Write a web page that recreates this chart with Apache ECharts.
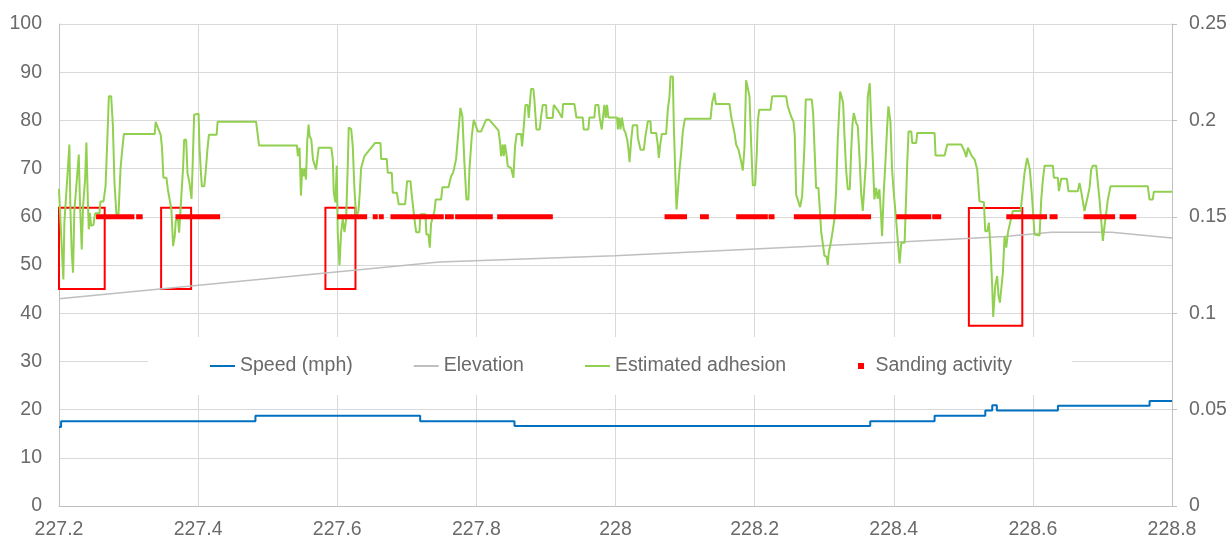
<!DOCTYPE html>
<html><head><meta charset="utf-8">
<script src="https://cdn.jsdelivr.net/npm/echarts@6/dist/echarts.min.js"></script>
<style>html,body{margin:0;padding:0;background:#fff}#c{width:1231px;height:540px}</style>
</head><body><div id="c"></div>
<script>
// ---- data ----
const seriesNames = ['Speed (mph)', 'Elevation', 'Estimated adhesion', 'Sanding activity'];

// speed (mph), step changes [km, mph]
const speed = [[227.2,16.4],[227.203,17.6],[227.4824,18.7],[227.7192,17.6],[227.8548,16.6],[228.3662,17.6],[228.4587,18.7],[228.5316,19.8],[228.5416,20.9],[228.5482,19.8],[228.636,20.8],[228.7678,21.8],[228.8,21.8]];

// elevation [km, value]
const elevation = [[227.2,43.0],[227.7469,50.6],[227.9986,51.9],[228.4012,54.7],[228.5594,55.9],[228.6265,56.8],[228.7128,56.8],[228.8,55.6]];

// estimated adhesion [km, value]
const adhesion = [
[227.2000,.1645],[227.2019,.1645],[227.2029,.1418],[227.2063,.1175],[227.2077,.1470],[227.2101,.1470],[227.2125,.1735],[227.2149,.1875],[227.2164,.1538],[227.2183,.1315],
[227.2202,.1210],[227.2221,.1538],[227.2236,.1598],[227.2260,.1603],[227.2284,.1823],[227.2303,.1555],[227.2327,.1330],[227.2346,.1555],[227.2375,.1693],[227.2394,.1885],
[227.2414,.1590],[227.2428,.1435],[227.2443,.1520],[227.2462,.1453],[227.2495,.1458],[227.2519,.1518],[227.2582,.1518],[227.2596,.1580],[227.2640,.1580],[227.2669,.1658],
[227.2693,.1883],[227.2717,.2125],[227.2750,.2125],[227.2774,.1978],[227.2798,.1675],[227.2827,.1503],[227.2856,.1518],[227.2885,.1753],[227.2909,.1848],[227.2933,.1930],
[227.3376,.1930],[227.3390,.1993],[227.3424,.1960],[227.3462,.1925],[227.3481,.1858],[227.3501,.1703],[227.3544,.1703],[227.3568,.1635],[227.3592,.1635],[227.3616,.1538],
[227.3640,.1348],[227.3664,.1400],[227.3679,.1483],[227.3712,.1483],[227.3727,.1418],[227.3746,.1418],[227.3760,.1615],[227.3785,.1763],[227.3799,.1900],[227.3828,.1900],
[227.3847,.1728],[227.3876,.1675],[227.3905,.1593],[227.3919,.1745],[227.3943,.2030],[227.4006,.2035],[227.4020,.1858],[227.4039,.1735],[227.4054,.1658],[227.4088,.1658],
[227.4107,.1728],[227.4136,.1858],[227.4155,.1925],[227.4266,.1925],[227.4280,.1993],[227.4833,.1993],[227.4876,.1870],[227.5420,.1870],[227.5434,.1815],[227.5458,.1858],
[227.5478,.1610],[227.5497,.1753],[227.5516,.1710],[227.5535,.1753],[227.5550,.1693],[227.5569,.1893],[227.5588,.1978],[227.5603,.1918],[227.5627,.1900],[227.5651,.1798],
[227.5675,.1798],[227.5694,.1745],[227.5713,.1798],[227.5733,.1858],[227.5915,.1858],[227.5936,.1798],[227.5950,.1625],[227.5974,.1575],[227.5993,.1765],[227.6007,.1420],
[227.6032,.1248],[227.6056,.1420],[227.6079,.1488],[227.6104,.1420],[227.6128,.1488],[227.6151,.1765],[227.6165,.1963],[227.6200,.1955],[227.6223,.1868],[227.6245,.1660],
[227.6272,.1498],[227.6305,.1530],[227.6324,.1625],[227.6343,.1753],[227.6367,.1758],[227.6391,.1815],[227.6544,.1883],[227.6621,.1883],[227.6631,.1800],[227.6712,.1800],
[227.6726,.1728],[227.6784,.1728],[227.6798,.1625],[227.6856,.1625],[227.6884,.1565],[227.6976,.1565],[227.7004,.1685],[227.7052,.1685],[227.7071,.1615],[227.7110,.1488],
[227.7134,.1420],[227.7181,.1420],[227.7196,.1513],[227.7268,.1513],[227.7282,.1408],[227.7311,.1408],[227.7330,.1340],[227.7349,.1465],[227.7373,.1465],[227.7397,.1530],
[227.7416,.1590],[227.7493,.1590],[227.7512,.1653],[227.7598,.1653],[227.7637,.1710],[227.7665,.1728],[227.7708,.1798],[227.7742,.1943],[227.7771,.2065],[227.7799,.2020],
[227.7828,.1780],[227.7857,.1590],[227.7886,.1590],[227.7900,.1745],[227.7934,.1918],[227.7962,.2003],[227.7986,.1978],[227.8020,.1943],[227.8068,.1943],[227.8139,.2003],
[227.8187,.2003],[227.8317,.1948],[227.8341,.1883],[227.8355,.1815],[227.8379,.1875],[227.8393,.1815],[227.8412,.1875],[227.8436,.1815],[227.8451,.1763],[227.8499,.1753],
[227.8532,.1703],[227.8556,.1865],[227.8580,.1930],[227.8642,.1930],[227.8657,.1865],[227.8676,.1943],[227.8705,.2080],[227.8738,.2080],[227.8753,.2013],[227.8786,.2163],
[227.8820,.2163],[227.8834,.2108],[227.8863,.1953],[227.8911,.1953],[227.8930,.2018],[227.8954,.2080],[227.9002,.2080],[227.9011,.2013],[227.9097,.2013],[227.9112,.2080],
[227.9179,.2048],[227.9232,.2013],[227.9246,.2085],[227.9409,.2085],[227.9438,.2015],[227.9529,.2015],[227.9543,.1953],[227.9610,.1953],[227.9624,.2015],[227.9696,.2015],
[227.9711,.2080],[227.9754,.2080],[227.9773,.2013],[227.9802,.1953],[227.9821,.2020],[227.9840,.2080],[227.9859,.2013],[227.9878,.2080],[227.9897,.2015],[228.0022,.2015],
[228.0034,.1953],[228.0053,.2015],[228.0072,.1953],[228.0091,.2015],[228.0120,.1953],[228.0144,.1935],[228.0168,.1900],[228.0187,.1848],[228.0202,.1783],[228.0226,.1900],
[228.0249,.1975],[228.0312,.1975],[228.0321,.1910],[228.0345,.1910],[228.0360,.1848],[228.0408,.1848],[228.0427,.1910],[228.0451,.1910],[228.0465,.1995],[228.0503,.1995],
[228.0513,.1935],[228.0585,.1935],[228.0609,.1870],[228.0623,.1805],[228.0642,.1870],[228.0666,.1930],[228.0728,.1930],[228.0752,.2055],[228.0776,.2125],[228.0791,.2228],
[228.0824,.2228],[228.0839,.1970],[228.0858,.1745],[228.0877,.1538],[228.0901,.1538],[228.0920,.1745],[228.0944,.1830],[228.0968,.1943],[228.0997,.2008],[228.1366,.2008],
[228.1389,.2090],[228.1423,.2143],[228.1442,.2085],[228.1639,.2085],[228.1663,.2020],[228.1686,.2013],[228.1710,.1935],[228.1734,.1875],[228.1768,.1848],[228.1806,.1788],
[228.1830,.1740],[228.1854,.1858],[228.1878,.2208],[228.1902,.2208],[228.1926,.2125],[228.1950,.1883],[228.1974,.1663],[228.2007,.1663],[228.2031,.1830],[228.2046,.1995],
[228.2065,.2055],[228.2228,.2055],[228.2252,.2125],[228.2453,.2125],[228.2477,.2073],[228.2525,.2020],[228.2558,.1995],[228.2577,.1925],[228.2597,.1615],[228.2621,.1615],
[228.2654,.1550],[228.2683,.1608],[228.2716,.1865],[228.2735,.2108],[228.2822,.2108],[228.2841,.2038],[228.2860,.1865],[228.2884,.1650],[228.2917,.1650],[228.2941,.1520],
[228.2956,.1425],[228.2980,.1418],[228.3004,.1298],[228.3033,.1293],[228.3052,.1250],[228.3066,.1315],[228.3100,.1375],[228.3124,.1383],[228.3147,.1485],[228.3171,.1633],
[228.3195,.1900],[228.3229,.2150],[228.3243,.2133],[228.3272,.2090],[228.3291,.1925],[228.3315,.1745],[228.3339,.1643],[228.3368,.1643],[228.3387,.1830],[228.3406,.1978],
[228.3425,.2038],[228.3459,.1988],[228.3483,.1970],[228.3507,.1815],[228.3531,.1625],[228.3555,.1530],[228.3579,.1530],[228.3603,.1798],[228.3627,.2125],[228.3655,.2193],
[228.3674,.2003],[228.3703,.1763],[228.3722,.1590],[228.3746,.1650],[228.3770,.1593],[228.3794,.1643],[228.3818,.1503],[228.3832,.1400],[228.3856,.1625],[228.3885,.1815],
[228.3904,.1960],[228.3923,.2073],[228.3952,.1995],[228.3976,.1745],[228.4000,.1625],[228.4034,.1485],[228.4084,.1258],[228.4108,.1365],[228.4156,.1365],[228.4180,.1625],
[228.4194,.1780],[228.4213,.1943],[228.4252,.1943],[228.4266,.1883],[228.4323,.1883],[228.4338,.1935],[228.4587,.1935],[228.4601,.1818],[228.4731,.1818],[228.4769,.1875],
[228.4970,.1875],[228.5018,.1840],[228.5042,.1810],[228.5066,.1858],[228.5123,.1815],[228.5162,.1798],[228.5200,.1745],[228.5233,.1580],[228.5296,.1575],[228.5315,.1425],
[228.5344,.1425],[228.5368,.1470],[228.5392,.1330],[228.5415,.1143],[228.5430,.0980],[228.5459,.1143],[228.5487,.1193],[228.5506,.1090],[228.5526,.1055],[228.5545,.1055],
[228.5569,.1210],[228.5593,.1400],[228.5617,.1340],[228.5641,.1418],[228.5689,.1495],[228.5712,.1530],[228.5823,.1530],[228.5847,.1608],[228.5880,.1728],[228.5918,.1805],
[228.5938,.1798],[228.5957,.1745],[228.5990,.1590],[228.6024,.1408],[228.6096,.1403],[228.6120,.1590],[228.6144,.1693],[228.6168,.1765],[228.6288,.1765],[228.6302,.1703],
[228.6359,.1703],[228.6374,.1633],[228.6393,.1633],[228.6407,.1698],[228.6488,.1698],[228.6512,.1633],[228.6647,.1633],[228.6670,.1675],[228.6694,.1633],[228.6718,.1580],
[228.6742,.1530],[228.6766,.1538],[228.6790,.1608],[228.6814,.1650],[228.6838,.1745],[228.6862,.1765],[228.6910,.1765],[228.6934,.1675],[228.6958,.1590],[228.6982,.1485],
[228.7006,.1375],[228.7030,.1453],[228.7054,.1520],[228.7078,.1590],[228.7116,.1658],[228.7652,.1658],[228.7676,.1590],[228.7724,.1590],[228.7739,.1630],[228.8000,.1630]
];

// sanding activity: km ranges where sanding was active, plotted at a fixed level
const sandingStart = [227.2533,227.3109,227.3674,227.5999,227.6510,227.6597,227.6765,227.7549,227.7695,227.8299,228.0705,228.1215,228.1735,228.2200,228.2564,228.4036,228.4553,228.5618,228.6240,228.6729,228.7247];
const sandingEnd   = [227.3084,227.3203,227.4316,227.6430,227.6582,227.6669,227.7531,227.7675,227.8236,227.9099,228.1028,228.1342,228.2190,228.2286,228.3674,228.4539,228.4683,228.6204,228.6355,228.7182,228.7487];
const sandingLevel = 0.15;

// highlighted low-adhesion zones [kmFrom, top, kmTo, bottom] (left-axis units)
const highlightBoxes = [[227.2,61.9,227.2657,45.0],[227.3468,61.9,227.3899,45.0],[227.583,61.9,227.6262,45.0],[228.508,61.8,228.5848,37.4]];

// axes
const xAxisRange = {min:227.2, max:228.8, interval:0.2};
const leftAxisRange = {min:0, max:100, interval:10};
const rightAxisRange = {min:0, max:0.25, interval:0.05};

// ---- build ----
const sandingData = [];
for (let i = 0; i < sandingStart.length; i++) {
  sandingData.push([sandingStart[i], sandingLevel], [sandingEnd[i], sandingLevel]);
  if (i < sandingStart.length - 1) sandingData.push([(sandingEnd[i] + sandingStart[i+1]) / 2, '-']);
}
const FONT = "'Liberation Sans', Arial, sans-serif";
const TXT = '#6a6a6a';
const LINE_ICON = 'path://M0,0L25,0L25,2L0,2Z';
const SQ_ICON = 'path://M0,0L6,0L6,6L0,6Z';
const labelStyle = {color: TXT, fontSize: 19.5, fontFamily: FONT};

const chart = echarts.init(document.getElementById('c'), null, {renderer: 'canvas'});
chart.setOption({
  animation: false,
  backgroundColor: '#fff',
  grid: {left: 59, right: 59, top: 24, bottom: 33, containLabel: false},
  legend: [{
    left: 148, top: 337, padding: [19, 66, 19, 62], itemGap: 61, itemWidth: 25, itemHeight: 14,
    backgroundColor: '#fff', selectedMode: false, textStyle: labelStyle,
    data: [{name: seriesNames[0], icon: LINE_ICON}, {name: seriesNames[1], icon: LINE_ICON}, {name: seriesNames[2], icon: LINE_ICON}]
  }, {
    left: 852, top: 337, padding: [19, 60, 19, 6], itemWidth: 19, itemHeight: 6,
    backgroundColor: '#fff', selectedMode: false, textStyle: labelStyle,
    data: [{name: seriesNames[3], icon: SQ_ICON}]
  }],
  xAxis: {
    type: 'value', min: xAxisRange.min, max: xAxisRange.max, interval: xAxisRange.interval,
    axisLine: {show: true, lineStyle: {color: '#bfbfbf', width: 1}},
    axisTick: {show: false},
    axisLabel: Object.assign({margin: 14}, labelStyle),
    splitLine: {show: true, lineStyle: {color: '#d9d9d9', width: 1}}
  },
  yAxis: [{
    type: 'value', min: leftAxisRange.min, max: leftAxisRange.max, interval: leftAxisRange.interval,
    axisLine: {show: true, lineStyle: {color: '#bfbfbf', width: 1}},
    axisTick: {show: false},
    axisLabel: Object.assign({margin: 17}, labelStyle),
    splitLine: {show: true, lineStyle: {color: '#d9d9d9', width: 1}}
  }, {
    type: 'value', position: 'right', min: rightAxisRange.min, max: rightAxisRange.max, interval: rightAxisRange.interval,
    axisLine: {show: true, lineStyle: {color: '#bfbfbf', width: 1}},
    axisTick: {show: true, length: 5, lineStyle: {color: '#bfbfbf'}},
    axisLabel: Object.assign({margin: 17}, labelStyle),
    splitLine: {show: false}
  }],
  series: [{
    name: seriesNames[0], type: 'line', yAxisIndex: 0, data: speed, step: 'end',
    symbol: 'none', silent: true, color: '#0070c0', lineStyle: {color: '#0070c0', width: 2}
  }, {
    name: seriesNames[1], type: 'line', yAxisIndex: 0, data: elevation,
    symbol: 'none', silent: true, color: '#bfbfbf', lineStyle: {color: '#bfbfbf', width: 1.5}
  }, {
    name: seriesNames[2], type: 'line', yAxisIndex: 1, data: adhesion,
    symbol: 'none', silent: true, color: '#92d050', lineStyle: {color: '#92d050', width: 2}
  }, {
    name: seriesNames[3], type: 'line', yAxisIndex: 1, data: sandingData, connectNulls: false,
    symbol: 'none', silent: true, color: '#ff0000', lineStyle: {color: '#ff0000', width: 5, cap: 'butt'}
  }, {
    name: 'highlight', type: 'line', yAxisIndex: 0, data: [], silent: true, z: 5,
    markArea: {
      silent: true, label: {show: false},
      itemStyle: {color: 'rgba(0,0,0,0)', borderColor: '#ff0000', borderWidth: 2},
      data: highlightBoxes.map(b => [{coord: [b[0], b[1]]}, {coord: [b[2], b[3]]}])
    }
  }]
});
</script></body></html>
